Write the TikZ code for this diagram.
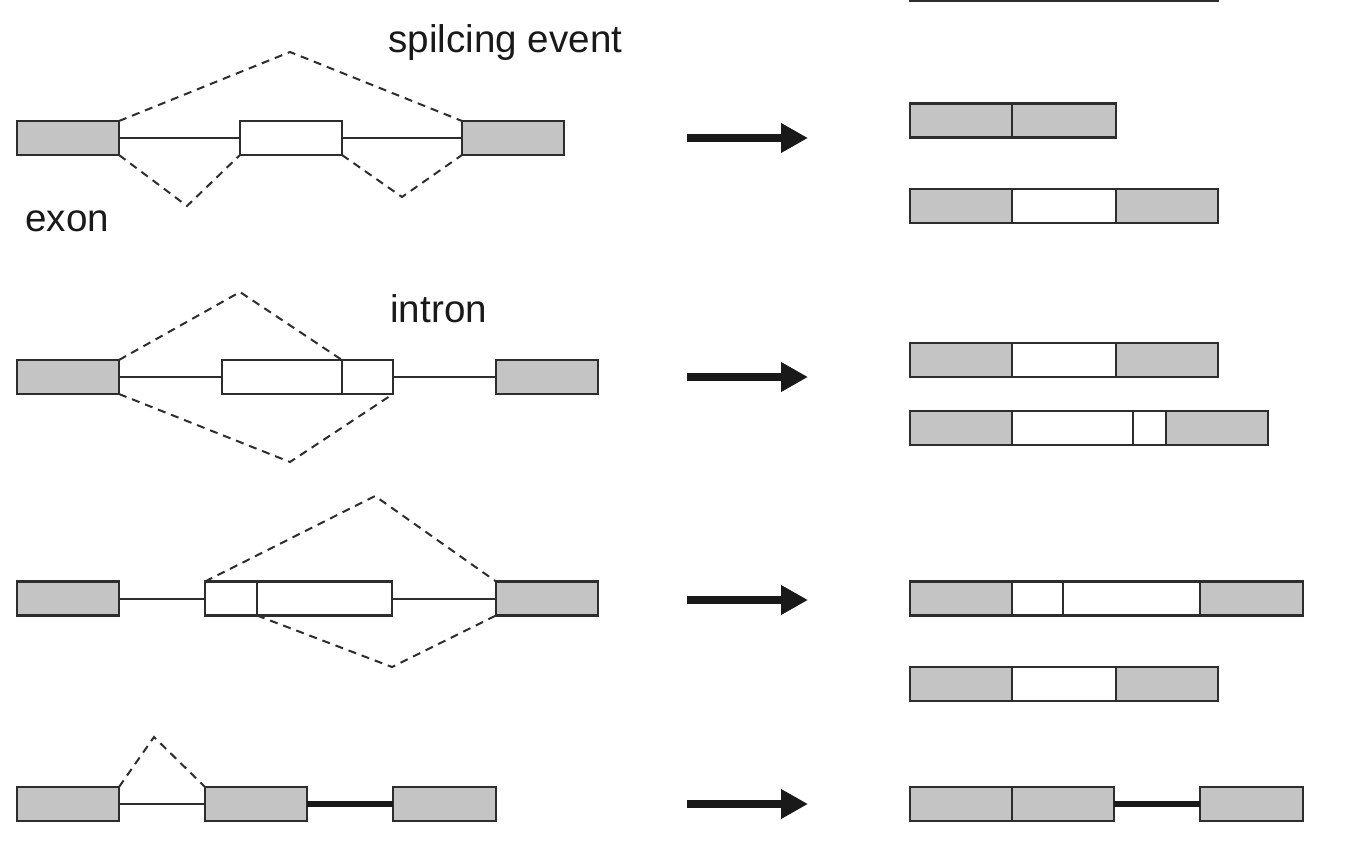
\documentclass[tikz,border=0pt]{standalone}
\usepackage{fontspec}
\setmainfont{Liberation Sans}
\usepackage{xcolor}
\definecolor{exongray}{RGB}{196,196,196}
\definecolor{edge}{RGB}{45,45,45}
\definecolor{ink}{RGB}{25,25,25}
\usepackage{tikz}
\usetikzlibrary{positioning,arrows.meta}

\tikzset{
  exonbox/.style={draw=edge, fill=exongray, line width=1.3pt, inner sep=0pt, outer sep=0pt,
    minimum height=17pt, minimum width=#1*0.5pt},
  exonbox/.default=102,
  altbox/.style={exonbox=#1, fill=white},
  altbox/.default=102,
  link/.style={draw=edge, line width=1pt},
  thicklink/.style={draw=ink, line width=2.6pt},
  splice/.style={draw=edge, line width=1pt, dash pattern=on 4pt off 3pt},
  bigarrow/.style={draw=ink, line width=3.8pt, -{Triangle[length=13.5pt,width=14pt]}},
  lbl/.style={text=ink, font=\fontsize{19.3}{23}\selectfont, inner sep=0pt, anchor=base west}
}

\begin{document}
\begin{tikzpicture}[x=0.5pt, y=-0.5pt]
\useasboundingbox (0,0) rectangle (1352,860);

% labels
\node[lbl] (event) at (388,53) {spilcing event};
\node[lbl] (exon) at (25,232) {exon};
\node[lbl] (intron) at (390,323) {intron};

% row 1: cassette exon
\node[exonbox] (ea1) at (68,138) {};
\node[altbox] (ia1) at (291,138) {};
\node[exonbox] (eb1) at (513,138) {};
\draw[link] (ea1.east) -- (ia1.west);
\draw[link] (ia1.east) -- (eb1.west);
\coordinate (top1) at (290,52);
\coordinate (low1a) at (187,206);
\coordinate (low1b) at (402,197);
\draw[splice] (ea1.north east) -- (top1) -- (eb1.north west);
\draw[splice] (ea1.south east) -- (low1a) -- (ia1.south west);
\draw[splice] (ia1.south east) -- (low1b) -- (eb1.south west);

% row 2: alternative 3' end of middle exon
\node[exonbox] (ea2) at (68,377) {};
\node[altbox=120, anchor=west] (ia2) at (222,377) {};
\node[altbox=51, right=0pt of ia2] (ib2) {};
\node[exonbox] (eb2) at (547,377) {};
\draw[link] (ea2.east) -- (ia2.west);
\draw[link] (ib2.east) -- (eb2.west);
\coordinate (top2) at (240,292);
\coordinate (low2) at (290,462);
\draw[splice] (ea2.north east) -- (top2) -- (ib2.north west);
\draw[splice] (ea2.south east) -- (low2) -- (ib2.south east);

% row 3: alternative 5' start of middle exon
\node[exonbox] (ea3) at (68,598.5) {};
\node[altbox=52, anchor=west] (ia3) at (205,598.5) {};
\node[altbox=135, right=0pt of ia3] (ib3) {};
\node[exonbox] (eb3) at (547,598.5) {};
\draw[link] (ea3.east) -- (ia3.west);
\draw[link] (ib3.east) -- (eb3.west);
\coordinate (top3) at (375,496);
\coordinate (low3) at (392,667);
\draw[splice] (ia3.north west) -- (top3) -- (eb3.north west);
\draw[splice] (ib3.south west) -- (low3) -- (eb3.south west);

% row 4: retained intron
\node[exonbox] (ea4) at (68,804) {};
\node[exonbox] (eb4) at (256,804) {};
\node[exonbox=103] (ec4) at (444.5,804) {};
\draw[link] (ea4.east) -- (eb4.west);
\draw[thicklink] (eb4.east) -- (ec4.west);
\coordinate (top4) at (154,737);
\draw[splice] (ea4.north east) -- (top4) -- (eb4.north west);

% arrows
\foreach \y [count=\i] in {138,377,600,804}{
  \coordinate (as\i) at (687,\y);
  \coordinate (ae\i) at (808,\y);
  \draw[bigarrow] (as\i) -- (ae\i);
}

% products
\node[exonbox, anchor=west] (pt1) at (910,-16) {};
\node[exonbox=104, right=0pt of pt1] (pt2) {};
\node[exonbox, right=0pt of pt2] (pt3) {};

\node[exonbox, anchor=west] (pa1) at (910,120.5) {};
\node[exonbox=104, right=0pt of pa1] (pa2) {};

\node[exonbox, anchor=west] (pb1) at (910,206) {};
\node[altbox=104, right=0pt of pb1] (pb2) {};
\node[exonbox, right=0pt of pb2] (pb3) {};

\node[exonbox, anchor=west] (pc1) at (910,360) {};
\node[altbox=104, right=0pt of pc1] (pc2) {};
\node[exonbox, right=0pt of pc2] (pc3) {};

\node[exonbox, anchor=west] (pd1) at (910,428) {};
\node[altbox=121, right=0pt of pd1] (pd2) {};
\node[altbox=33, right=0pt of pd2] (pd3) {};
\node[exonbox, right=0pt of pd3] (pd4) {};

\node[exonbox, anchor=west] (pe1) at (910,598.5) {};
\node[altbox=51, right=0pt of pe1] (pe2) {};
\node[altbox=137, right=0pt of pe2] (pe3) {};
\node[exonbox=103, right=0pt of pe3] (pe4) {};

\node[exonbox, anchor=west] (pf1) at (910,684) {};
\node[altbox=104, right=0pt of pf1] (pf2) {};
\node[exonbox, right=0pt of pf2] (pf3) {};

\node[exonbox, anchor=west] (pg1) at (910,804) {};
\node[exonbox, right=0pt of pg1] (pg2) {};
\node[exonbox=103, anchor=west] (pg3) at (1200,804) {};
\draw[thicklink] (pg2.east) -- (pg3.west);
\end{tikzpicture}
\end{document}
